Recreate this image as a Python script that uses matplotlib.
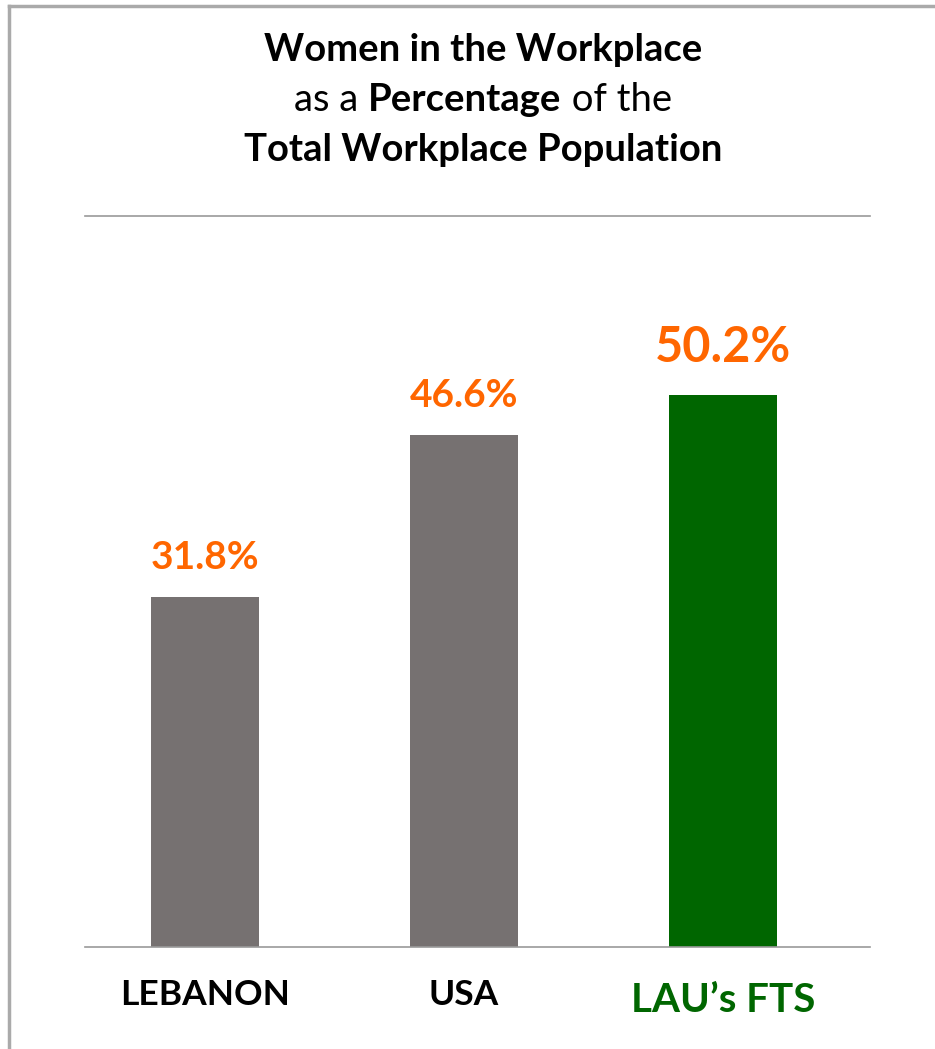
import numpy as np
import matplotlib.pyplot as plt
from matplotlib.lines import Line2D

categories = ['LEBANON', 'USA', "LAU\u2019s FTS"]
values = [31.8, 46.6, 50.2]
labels = ['31.8%', '46.6%', '50.2%']
bar_colors = ['#767171', '#767171', '#006600']
label_colors = ['black', 'black', '#006600']

plt.rcParams['font.family'] = ['Lato', 'DejaVu Sans']

fig = plt.figure(figsize=(9.35, 10.49), dpi=100)
W, H = 935, 1049

# frame lines (top and left)
fig.add_artist(Line2D([9 / W, 1], [1 - 6 / H, 1 - 6 / H], color='#aaaaaa', lw=2.5))
fig.add_artist(Line2D([9 / W, 9 / W], [0, 1 - 6 / H], color='#aaaaaa', lw=2.5))

ax = fig.add_axes([85 / W, 1 - 947 / H, 785 / W, (947 - 216) / H])
x = np.arange(len(categories))
ax.bar(x, values, width=0.42, color=bar_colors)
ax.set_xlim(-0.463, 2.568)
ax.set_ylim(0, 66.5)
for s in ['left', 'right']:
    ax.spines[s].set_visible(False)
for s in ['top', 'bottom']:
    ax.spines[s].set_color('#999999')
    ax.spines[s].set_linewidth(1.2)
ax.set_yticks([])
ax.set_xticks(x)
ax.set_xticklabels([])
ax.tick_params(length=0)

for i in range(len(x)):
    big = i == 2
    ax.text(x[i], values[i] + (2.3 if big else 2.0), labels[i], ha='center', va='bottom',
            color='#ff6600', fontweight='bold', fontsize=35 if big else 28)
    ax.text(x[i], -2.9 if not big else -3.2, categories[i], ha='center', va='top',
            color=label_colors[i], fontweight='bold', fontsize=29 if big else 25.5,
            clip_on=False)

# title
fs = 27.5
fig.text(483 / W, 1 - 50 / H, 'Women in the Workplace', ha='center', va='center',
         fontsize=fs, fontweight='bold')
fig.text(483 / W, 1 - 150 / H, 'Total Workplace Population', ha='center', va='center',
         fontsize=fs, fontweight='bold')

parts = [('as a ', 'normal'), ('Percentage', 'bold'), (' of the', 'normal')]
fig.canvas.draw()
r = fig.canvas.get_renderer()
texts = [fig.text(0, 1 - 100 / H, p, fontsize=fs, fontweight=w, va='center', ha='left') for p, w in parts]
widths = [t.get_window_extent(r).width for t in texts]
total = sum(widths)
xpos = 483 - total / 2
for t, w in zip(texts, widths):
    t.set_x(xpos / W)
    xpos += w

fig.savefig('out.png', dpi=100)
